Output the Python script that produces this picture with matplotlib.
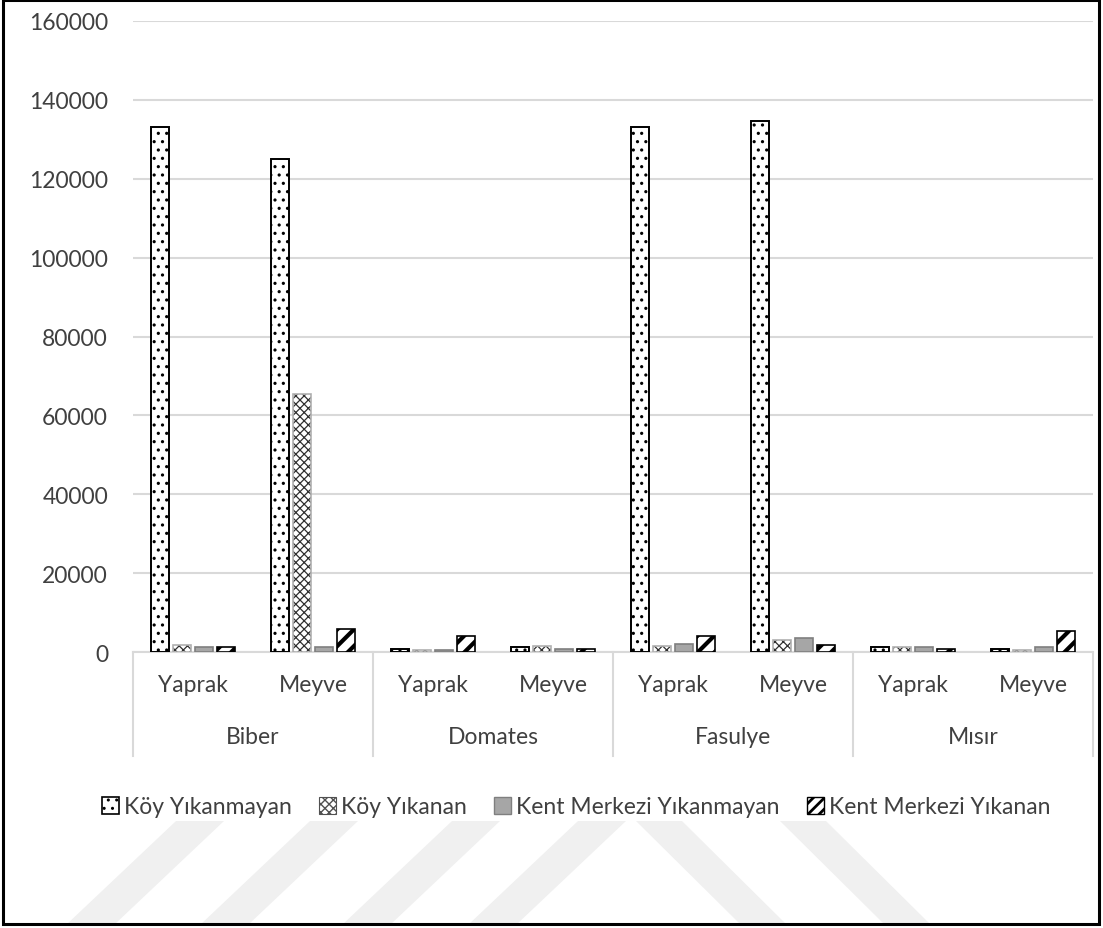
import numpy as np
import matplotlib as mpl
import matplotlib.pyplot as plt
from matplotlib.patches import Patch, Polygon, Rectangle
from matplotlib.transforms import blended_transform_factory

plt.rcParams['font.family'] = ['Lato', 'DejaVu Sans']

crops = ['Biber', 'Domates', 'Fasulye', 'Mısır']
parts = ['Yaprak', 'Meyve']
series = ['Köy Yıkanmayan', 'Köy Yıkanan', 'Kent Merkezi Yıkanmayan', 'Kent Merkezi Yıkanan']

# values per (crop, part): Biber Y/M, Domates Y/M, Fasulye Y/M, Mısır Y/M
koy_yikanmayan = [133000, 125000, 800, 1300, 133000, 134700, 1300, 700]
koy_yikanan = [1700, 65500, 500, 1600, 1600, 3000, 1300, 500]
kent_yikanmayan = [1300, 1200, 500, 700, 2000, 3500, 1300, 1300]
kent_yikanan = [1300, 5800, 4000, 700, 4000, 1800, 700, 5300]

W, H = 1103, 929
TXT = '#404040'
GRID = '#d9d9d9'
FS = 16.5


def fx(px):
    return px / W


def fy(py):
    return 1 - py / H


def hatch_lw(patches, lw):
    for p in patches:
        if hasattr(p, 'set_hatch_linewidth'):
            p.set_hatch_linewidth(lw)
        else:
            p._hatch_linewidth = lw


fig = plt.figure(figsize=(W / 100, H / 100), dpi=100)

# faint diagonal watermark stripes below the legend
for x0 in [176, 310, 452, 578]:
    pts = [(x0, 822), (x0 + 48, 822), (x0 + 48 - 110, 926), (x0 - 110, 926)]
    fig.patches.append(Polygon([(fx(a), fy(b)) for a, b in pts], closed=True,
                               transform=fig.transFigure, fc='#f0f0f0', ec='none', zorder=0))
for x0 in [636, 780]:
    pts = [(x0, 822), (x0 + 46, 822), (x0 + 46 + 105, 926), (x0 + 105, 926)]
    fig.patches.append(Polygon([(fx(a), fy(b)) for a, b in pts], closed=True,
                               transform=fig.transFigure, fc='#f0f0f0', ec='none', zorder=0))

ax = fig.add_axes([fx(133), fy(653), fx(1093) - fx(133), fy(22) - fy(653)])
ax.set_facecolor('none')

x = np.arange(len(crops) * len(parts))
bw = 0.155
step = 0.183
offs = [(i - 1.5) * step for i in range(4)]

# Köy Yıkanmayan: dotted, black outline
plt.rcParams['hatch.linewidth'] = 1.1
b1 = ax.bar(x + offs[0], koy_yikanmayan, bw, color='white', edgecolor='black', hatch='..',
            linewidth=1.4, zorder=3)
# Köy Yıkanan: dense cross pattern, light outline
plt.rcParams['hatch.linewidth'] = 0.9
b2 = ax.bar(x + offs[1], koy_yikanan, bw, color='white', edgecolor='#303030', hatch='xxxx',
            linewidth=0, zorder=3)
ax.bar(x + offs[1], koy_yikanan, bw, fill=False, edgecolor='#b0b0b0', linewidth=1.2, zorder=4)
# Kent Merkezi Yıkanmayan: solid grey
ax.bar(x + offs[2], kent_yikanmayan, bw, color='#a6a6a6', edgecolor='#7f7f7f',
       linewidth=1.2, zorder=3)
# Kent Merkezi Yıkanan: heavy diagonal stripes
plt.rcParams['hatch.linewidth'] = 3.0
b4 = ax.bar(x + offs[3], kent_yikanan, bw, color='white', edgecolor='black', hatch='//',
            linewidth=1.2, zorder=3)
hatch_lw(b4, 3.0)
plt.rcParams['hatch.linewidth'] = 1.0

ax.set_xlim(-0.5, len(x) - 0.5)
ax.set_ylim(0, 160000)
ax.set_yticks(np.arange(0, 160001, 20000))
ax.yaxis.grid(True, color=GRID, linewidth=1.5, zorder=0)
ax.set_axisbelow(True)
ax.set_xticks([])
ax.tick_params(axis='y', length=0, pad=18, labelsize=FS, labelcolor=TXT)
for s in ['top', 'right', 'left']:
    ax.spines[s].set_visible(False)
ax.spines['bottom'].set_color(GRID)
ax.spines['bottom'].set_linewidth(1.5)

# two-level category axis
trans = blended_transform_factory(ax.transData, ax.transAxes)
box_bottom = -(757 - 653) / (653 - 22)
for k in range(len(crops) + 1):
    xs = k * len(parts) - 0.5
    ax.plot([xs, xs], [0, box_bottom], transform=trans, color=GRID, linewidth=1.5,
            clip_on=False)
for i, xi in enumerate(x):
    ax.text(xi, -(685 - 653) / (653 - 22), parts[i % 2], transform=trans, ha='center',
            va='center', fontsize=FS, color=TXT)
for k, c in enumerate(crops):
    ax.text(k * len(parts) + 0.5, -(738 - 653) / (653 - 22), c, transform=trans,
            ha='center', va='center', fontsize=FS, color=TXT)

handles = [
    Patch(facecolor='white', edgecolor='black', hatch='..', linewidth=1.2),
    Patch(facecolor='white', edgecolor='#505050', hatch='xxxx', linewidth=0.8),
    Patch(facecolor='#a6a6a6', edgecolor='#7f7f7f', linewidth=1.0),
    Patch(facecolor='white', edgecolor='black', hatch='///', linewidth=1.0),
]
leg = fig.legend(handles, series, loc='center', bbox_to_anchor=(fx(576), fy(808)),
                 bbox_transform=fig.transFigure, ncol=4, frameon=False, fontsize=FS,
                 handlelength=0.75, handleheight=0.75, handletextpad=0.2, columnspacing=1.2,
                 labelcolor=TXT)
hatch_lw(leg.get_patches()[3:], 2.0)

# outer frame
fig.patches.append(Rectangle((fx(3), fy(925)), fx(1099) - fx(3), fy(1) - fy(925),
                             transform=fig.transFigure, fill=False, ec='black', lw=2.2,
                             zorder=10))

fig.savefig('out.png', dpi=100)
